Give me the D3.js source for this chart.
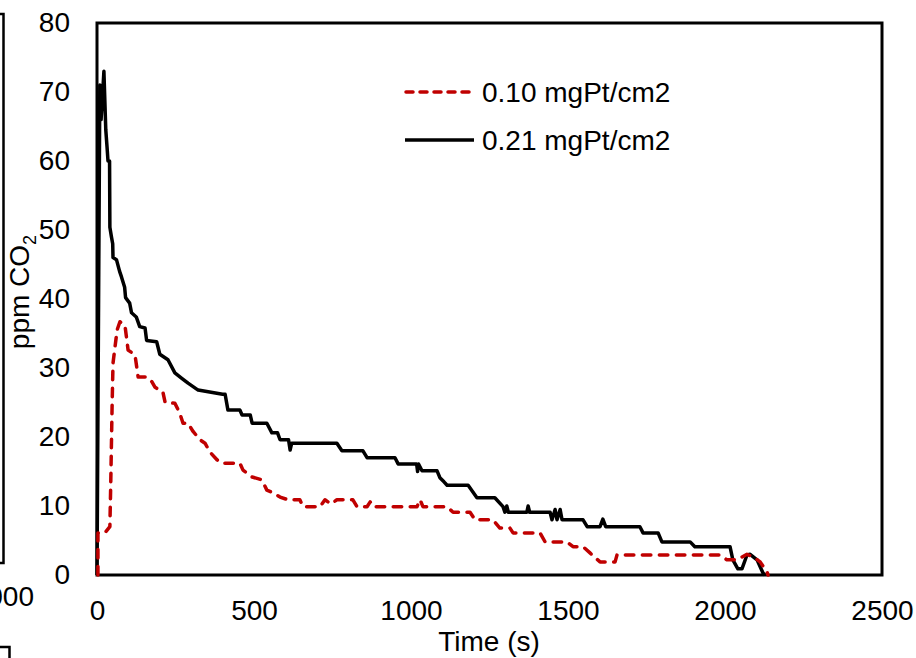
<!DOCTYPE html>
<html lang="en">

<head>
	<meta charset="UTF-8" />
	<script src="https://d3js.org/d3.v7.min.js"></script>
	<style>
		body { margin: 0; background: #fff; }
		text { font-family: "Liberation Sans", Arial, sans-serif; fill: #000; }
	</style>
</head>

<body>
	<svg width="916" height="658"></svg>

	<script>
		// series: time (s) and ppm CO2
		var time010 = [3,3,25,41,44,48,51,64,73,89,99,121,131,159,175,185,210,217,248,264,274,290,306,328,344,360,382,398,455,465,494,525,541,561,583,608,646,656,710,726,745,764,815,828,860,870,879,1019,1029,1038,1115,1134,1188,1204,1261,1283,1315,1325,1411,1427,1497,1516,1548,1570,1602,1650,1656,1984,2006,2038,2070,2090,2112,2134,2137];
		var ppm010 = [0,6.1,6.1,7,13.8,24.3,30.7,35.5,36.7,36.2,32.6,31.9,28.7,28.7,28,27.2,26.5,25,24.9,23.4,22,22,20.8,19.6,19.1,17.8,16.7,16.2,16.2,15.2,14.2,13.8,12.3,11.9,11.3,10.9,10.9,9.9,9.9,10.9,10.3,10.9,10.9,9.9,9.9,10.6,9.9,9.9,10.9,9.9,9.9,9.1,9.1,8,8,6.8,6.8,6.1,6.1,4.8,4.8,4.1,4.1,3.2,1.9,1.9,2.9,2.9,2.2,2.2,3,2.6,1.9,0.4,0];

		var time021 = [0,9,13,22,28,32,35,40,41,46,50,51,62,72,78,88,91,104,110,125,136,153,158,190,200,226,248,270,290,322,400,408,417,455,462,488,494,541,557,575,583,610,615,620,624,764,780,847,860,949,959,1018,1021,1024,1035,1083,1092,1105,1115,1182,1210,1267,1293,1299,1305,1310,1369,1373,1378,1443,1449,1459,1465,1475,1481,1548,1561,1602,1611,1620,1729,1739,1787,1799,1889,1904,2016,2025,2041,2054,2070,2080,2102,2121,2127];
		var ppm021 = [0,71,66,73,64.5,62,60,60,50.4,49,48,46,45.7,44,43.2,41.7,40.2,39.4,38,37.4,36,35.8,34,33.8,32,31.2,29.3,28.5,27.8,26.8,26.2,26.2,23.9,23.9,23.2,23.2,22,22,20.6,20.6,19.6,19.6,18.1,19.1,19.1,19.1,18,18,17,17,16.1,16.1,15,16.1,15.1,15.1,14.1,13.5,13,13,11.2,11.2,9.9,9.1,10,9.1,9.1,10,9.1,9.1,8,9.5,8,9.5,8,8,7,7,8.1,7,7,6.1,6.1,4.8,4.8,4.1,4.1,2.2,0.9,0.9,2.9,3,2.2,0.3,0];

		var seriesNames = ["0.10 mgPt/cm2", "0.21 mgPt/cm2"];
		var xTicks = [0, 500, 1000, 1500, 2000, 2500];
		var yTicks = [0, 10, 20, 30, 40, 50, 60, 70, 80];

		var svg = d3.select("svg");

		var x = d3.scaleLinear().domain([0, 2500]).range([97, 882]);
		var y = d3.scaleLinear().domain([0, 80]).range([575, 23]);

		// bits of the neighbouring chart that got cut into the picture
		svg.append("path")
			.attr("d", "M0,14H3.5V563H0 M0,647H9.5V658")
			.attr("fill", "none")
			.attr("stroke", "#000")
			.attr("stroke-width", 2.5);
		svg.append("text")
			.attr("x", 34).attr("y", 606)
			.attr("text-anchor", "end")
			.style("font-size", "28px")
			.text("3000");

		// axes, no tick marks
		var gx = svg.append("g")
			.attr("transform", "translate(0,575)")
			.call(d3.axisBottom(x).tickValues(xTicks).tickSize(0).tickPadding(25).tickFormat(d3.format("d")));
		var gy = svg.append("g")
			.attr("transform", "translate(97,0)")
			.call(d3.axisLeft(y).tickValues(yTicks).tickSize(0).tickPadding(27));
		svg.selectAll(".domain").remove();
		svg.selectAll(".tick text")
			.style("font-size", "28px")
			.attr("font-family", null);

		// plot area frame
		svg.append("rect")
			.attr("x", x(0)).attr("y", y(80))
			.attr("width", x(2500) - x(0))
			.attr("height", y(0) - y(80))
			.attr("fill", "none")
			.attr("stroke", "#000")
			.attr("stroke-width", 3);

		var line = d3.line()
			.x(function(d){ return x(d[0]); })
			.y(function(d){ return y(d[1]); });

		var black = d3.zip(time021, ppm021);
		var red = d3.zip(time010, ppm010);

		svg.append("path")
			.datum(black)
			.attr("d", line)
			.attr("fill", "none")
			.attr("stroke", "#000")
			.attr("stroke-width", 3.5)
			.attr("stroke-linejoin", "round");

		svg.append("path")
			.datum(red)
			.attr("d", line)
			.attr("fill", "none")
			.attr("stroke", "#c00000")
			.attr("stroke-width", 3.5)
			.attr("stroke-dasharray", "8.5,8.5")
			.attr("stroke-linecap", "round")
			.attr("stroke-linejoin", "round");

		// legend
		var legend = svg.append("g");
		legend.append("line")
			.attr("x1", 406).attr("x2", 474).attr("y1", 92).attr("y2", 92)
			.attr("stroke", "#c00000").attr("stroke-width", 3.5)
			.attr("stroke-dasharray", "7,7").attr("stroke-linecap", "round");
		legend.append("line")
			.attr("x1", 405).attr("x2", 474).attr("y1", 140).attr("y2", 140)
			.attr("stroke", "#000").attr("stroke-width", 3.5);
		legend.selectAll("text.lab")
			.data(seriesNames)
			.enter()
			.append("text")
			.attr("x", 482)
			.attr("y", function(d, i){ return 102 + i * 48; })
			.style("font-size", "28px")
			.text(function(d){ return d; });

		// axis titles
		svg.append("text")
			.attr("x", 489).attr("y", 651)
			.attr("text-anchor", "middle")
			.style("font-size", "28px")
			.text("Time (s)");

		var yt = svg.append("text")
			.attr("transform", "translate(29,292) rotate(-90)")
			.attr("text-anchor", "middle")
			.style("font-size", "28px");
		yt.append("tspan").text("ppm CO");
		yt.append("tspan").attr("dy", 7).style("font-size", "18px").text("2");
	</script>
</body>

</html>
